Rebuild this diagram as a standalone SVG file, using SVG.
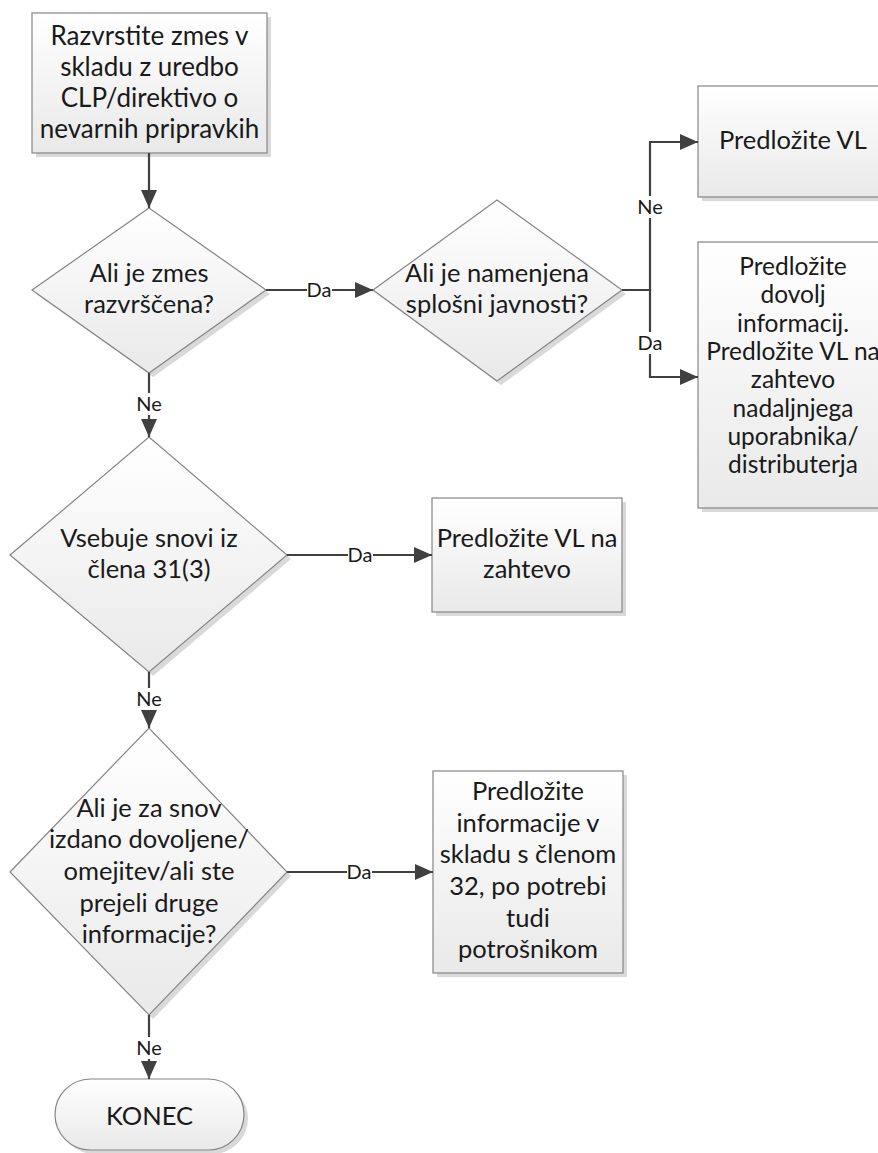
<svg xmlns="http://www.w3.org/2000/svg" width="878" height="1153" viewBox="0 0 878 1153">
<defs>
<linearGradient id="g" x1="0" y1="0" x2="0" y2="1">
<stop offset="0" stop-color="#ffffff"/>
<stop offset="1" stop-color="#e9e9e9"/>
</linearGradient>
<marker id="ah" markerUnits="userSpaceOnUse" markerWidth="19" markerHeight="17" refX="18" refY="8" orient="auto">
<path d="M0,0 L18,8 L0,16 Z" fill="#404040"/>
</marker>
<style>
.shape{fill:url(#g);stroke:#858585;stroke-width:1.2}
.shadow{fill:#d9d9d9;stroke:none}
.t{font-family:Lato,"Open Sans",sans-serif;font-size:25.5px;fill:#1a1a1a;text-anchor:middle}
.c{fill:none;stroke:#404040;stroke-width:2.2}
.a{marker-end:url(#ah)}
.lbg{fill:#ffffff}
.l{font-family:Lato,"Open Sans",sans-serif;font-size:20px;fill:#1a1a1a;text-anchor:middle}
</style>
</defs>
<rect width="878" height="1153" fill="#ffffff"/>

<g id="n1">
<rect class="shadow" x="36" y="17" width="235" height="140"/>
<rect class="shape" x="32" y="13" width="235" height="140"/>
<text class="t" x="149.5" y="45" style="font-size:26px">Razvrstite zmes v</text>
<text class="t" x="149.5" y="76" style="font-size:26px">skladu z uredbo</text>
<text class="t" x="149.5" y="107" style="font-size:26px">CLP/direktivo o</text>
<text class="t" x="149.5" y="138" style="font-size:26px">nevarnih pripravkih</text>
</g>

<g id="d1">
<polygon class="shadow" points="36,294 153,212 270,294 153,377"/>
<polygon class="shape" points="32,290 149,208 266,290 149,373"/>
<text class="t" x="149" y="282">Ali je zmes</text>
<text class="t" x="149" y="313">razvrščena?</text>
</g>

<g id="d2">
<polygon class="shadow" points="377,294 501,204 626,294 501,385"/>
<polygon class="shape" points="373,290 497,200 622,290 497,381"/>
<text class="t" x="497" y="282">Ali je namenjena</text>
<text class="t" x="497" y="313">splošni javnosti?</text>
</g>

<g id="b_vl">
<rect class="shadow" x="702" y="90" width="190" height="111"/>
<rect class="shape" x="698" y="86" width="190" height="111"/>
<text class="t" x="793" y="149">Predložite VL</text>
</g>

<g id="b_info">
<rect class="shadow" x="702" y="246" width="190" height="266"/>
<rect class="shape" x="698" y="242" width="190" height="266"/>
<text class="t" x="793" y="275" style="font-size:24.5px">Predložite</text>
<text class="t" x="793" y="303" style="font-size:24.5px">dovolj</text>
<text class="t" x="793" y="332" style="font-size:24.5px">informacij.</text>
<text class="t" x="793" y="360" style="font-size:24.5px">Predložite VL na</text>
<text class="t" x="793" y="388" style="font-size:24.5px">zahtevo</text>
<text class="t" x="793" y="417" style="font-size:24.5px">nadaljnjega</text>
<text class="t" x="793" y="445" style="font-size:24.5px">uporabnika/</text>
<text class="t" x="793" y="473" style="font-size:24.5px">distributerja</text>
</g>

<g id="d3">
<polygon class="shadow" points="14,559 153,441 291,559 153,676"/>
<polygon class="shape" points="10,555 149,437 287,555 149,672"/>
<text class="t" x="149" y="547">Vsebuje snovi iz</text>
<text class="t" x="149" y="578">člena 31(3)</text>
</g>

<g id="b_zahtevo">
<rect class="shadow" x="436" y="502" width="190" height="114"/>
<rect class="shape" x="432" y="498" width="190" height="114"/>
<text class="t" x="527" y="547">Predložite VL na</text>
<text class="t" x="527" y="578">zahtevo</text>
</g>

<g id="d4">
<polygon class="shadow" points="14,876 153,732 291,876 153,1019"/>
<polygon class="shape" points="10,872 149,728 287,872 149,1015"/>
<text class="t" x="149" y="817">Ali je za snov</text>
<text class="t" x="149" y="848">izdano dovoljene/</text>
<text class="t" x="149" y="880">omejitev/ali ste</text>
<text class="t" x="149" y="912">prejeli druge</text>
<text class="t" x="149" y="943">informacije?</text>
</g>

<g id="b_clen32">
<rect class="shadow" x="437" y="775" width="190" height="202"/>
<rect class="shape" x="433" y="771" width="190" height="202"/>
<text class="t" x="528" y="800">Predložite</text>
<text class="t" x="528" y="832">informacije v</text>
<text class="t" x="528" y="863">skladu s členom</text>
<text class="t" x="528" y="895">32, po potrebi</text>
<text class="t" x="528" y="927">tudi</text>
<text class="t" x="528" y="958">potrošnikom</text>
</g>

<g id="konec">
<rect class="shadow" x="59" y="1083" width="189" height="71" rx="35.5" ry="35.5"/>
<rect class="shape" x="55" y="1079" width="189" height="71" rx="35.5" ry="35.5"/>
<text class="t" x="149.5" y="1125">KONEC</text>
</g>

<g id="connectors">
<path class="c a" d="M149,153 V208"/>
<path class="c a" d="M266,290 H373"/>
<path class="c a" d="M622,290 H650 V142 H698"/>
<path class="c a" d="M622,290 H650 V377 H698"/>
<path class="c a" d="M149,373 V437"/>
<path class="c a" d="M287,555 H432"/>
<path class="c a" d="M149,672 V728"/>
<path class="c a" d="M287,872 H433"/>
<path class="c a" d="M149,1015 V1079"/>

<rect class="lbg" x="307" y="279" width="25" height="22"/>
<text class="l" x="319" y="297">Da</text>
<rect class="lbg" x="637" y="196" width="26" height="22"/>
<text class="l" x="650" y="214">Ne</text>
<rect class="lbg" x="638" y="332" width="25" height="22"/>
<text class="l" x="650" y="350">Da</text>
<rect class="lbg" x="136" y="393" width="26" height="22"/>
<text class="l" x="149" y="411">Ne</text>
<rect class="lbg" x="348" y="544" width="25" height="22"/>
<text class="l" x="360" y="562">Da</text>
<rect class="lbg" x="136" y="688" width="26" height="22"/>
<text class="l" x="149" y="706">Ne</text>
<rect class="lbg" x="347" y="861" width="25" height="22"/>
<text class="l" x="359" y="879">Da</text>
<rect class="lbg" x="136" y="1037" width="26" height="22"/>
<text class="l" x="149" y="1055">Ne</text>
</g>
</svg>
